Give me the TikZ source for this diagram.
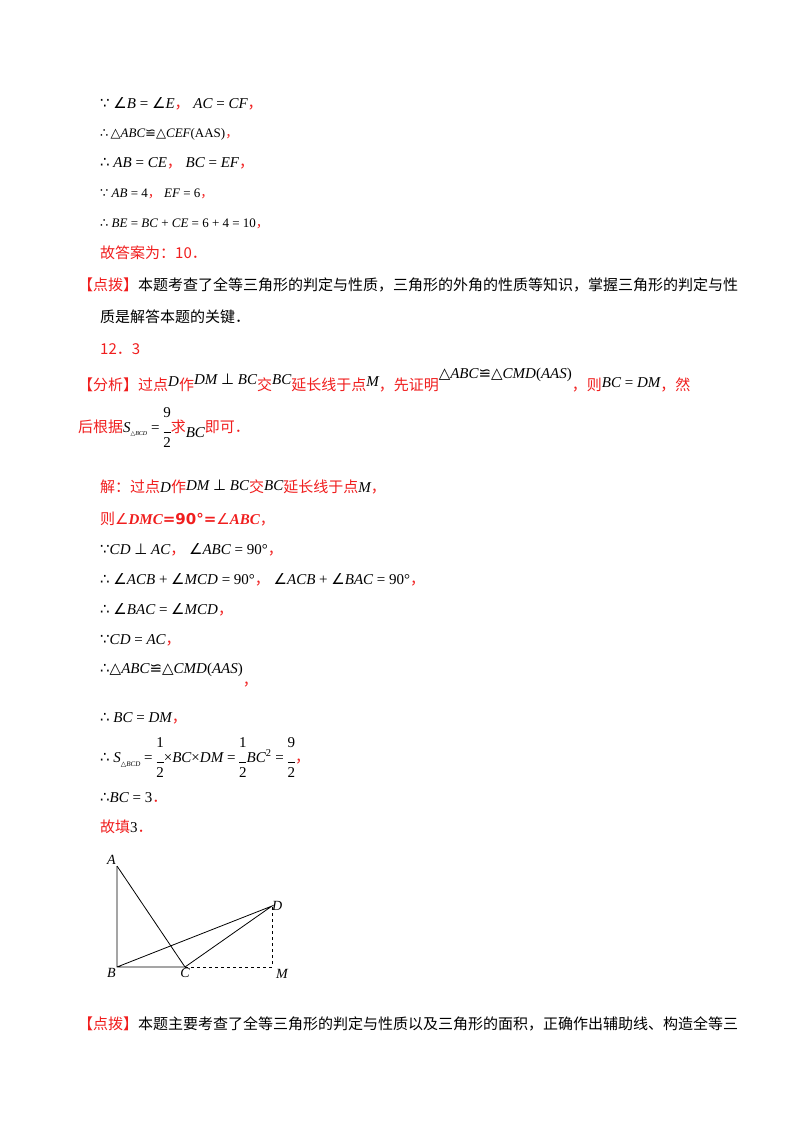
\documentclass[tikz,border=0pt]{standalone}
\usepackage{fontspec}
\setmainfont{Liberation Serif}
\newfontfamily\cjk{Noto Sans CJK SC}
\newfontfamily\sy{DejaVu Sans}
\newfontfamily\mi{Liberation Serif}
\definecolor{rd}{RGB}{240,30,30}
\newcommand{\R}[1]{\textcolor{rd}{\cjk #1}}
\newcommand{\M}[1]{{\mi\itshape #1}}
\newcommand{\Y}[1]{{\sy\upshape #1}}
\newcommand{\fr}[2]{$\vcenter{\hbox{\begin{tabular}{@{}c@{}}\normalfont #1\\[-3pt]\rule{7pt}{0.5pt}\\[-3pt]\normalfont #2\end{tabular}}}$}
\begin{document}
\begin{tikzpicture}[x=1pt,y=-1pt,
  ln/.style={anchor=base west,inner sep=0pt,font=\fontsize{15}{18}\selectfont},
  sm/.style={anchor=base west,inner sep=0pt,font=\fontsize{13}{15}\selectfont},
  lab/.style={font=\fontsize{14}{16}\selectfont\mi\itshape,inner sep=1pt}]
\useasboundingbox (0,0) rectangle (800,1132);
\node[ln] (l1) at (100,108) {\Y{∵} \Y{∠}\M{B} = \Y{∠}\M{E}\R{，}\ \M{AC} = \M{CF}\R{，}};
\node[sm] (l2) at (100,137) {\Y{∴}\,\Y{△}\M{ABC}\Y{≌}\Y{△}\M{CEF}(AAS)\R{，}};
\node[ln] (l3) at (100,167) {\Y{∴} \M{AB} = \M{CE}\R{，}\ \M{BC} = \M{EF}\R{，}};
\node[sm] (l4) at (100,197) {\Y{∵} \M{AB} = 4\R{，}\ \M{EF} = 6\R{，}};
\node[sm] (l5) at (100,227) {\Y{∴} \M{BE} = \M{BC} + \M{CE} = 6 + 4 = 10\R{，}};
\node[ln] (l6) at (100,258) {\R{故答案为：10．}};
\node[ln] (l7) at (78,290) {\R{【点拨】}{\cjk 本题考查了全等三角形的判定与性质，三角形的外角的性质等知识，掌握三角形的判定与性}};
\node[ln] (l8) at (100,322) {\cjk 质是解答本题的关键．};
\node[ln] (l9) at (100,354) {\R{12．3}};
\node[ln] (l10) at (78,390) {\R{【分析】过点}\raisebox{4pt}{\M{D}}\R{作}\raisebox{6pt}{\M{DM} \Y{⊥} \M{BC}}\R{交}\raisebox{6pt}{\M{BC}}\R{延长线于点}\raisebox{4pt}{\M{M}}\R{，先证明}\raisebox{12pt}{\Y{△}\M{ABC}\Y{≌}\Y{△}\M{CMD}(\M{AAS})}\R{，则}\raisebox{3pt}{\M{BC} = \M{DM}}\R{，然}};
\node[ln] (l11) at (78,432) {\R{后根据}\M{S}\raisebox{-3pt}{\fontsize{6}{7}\selectfont\Y{△}\M{BCD}} = \fr{9}{2}\R{求}\raisebox{-5pt}{\M{BC}}\R{即可．}};
\node[ln] (l12) at (100,492) {\R{解：过点}\M{D}\R{作}\raisebox{2pt}{\M{DM} \Y{⊥} \M{BC}}\R{交}\raisebox{2pt}{\M{BC}}\R{延长线于点}\M{M}\R{，}};
\node[ln] (l13) at (100,524) {\textcolor{rd}{{\cjk 则}\Y{∠}{\mi\bfseries\itshape DMC}{\sy\bfseries =90°=}\Y{∠}{\mi\bfseries\itshape ABC}{\cjk ，}}};
\node[ln] (l14) at (100,554) {\Y{∵}\M{CD} \Y{⊥} \M{AC}\R{，}\ \Y{∠}\M{ABC} = 90°\R{，}};
\node[ln] (l15) at (100,584) {\Y{∴} \Y{∠}\M{ACB} + \Y{∠}\M{MCD} = 90°\R{，}\ \Y{∠}\M{ACB} + \Y{∠}\M{BAC} = 90°\R{，}};
\node[ln] (l16) at (100,614) {\Y{∴} \Y{∠}\M{BAC} = \Y{∠}\M{MCD}\R{，}};
\node[ln] (l17) at (100,644) {\Y{∵}\M{CD} = \M{AC}\R{，}};
\node[ln] (l18) at (100,673) {\Y{∴}\Y{△}\M{ABC}\Y{≌}\Y{△}\M{CMD}(\M{AAS})\raisebox{-12pt}{\R{，}}};
\node[ln] (l19) at (100,722) {\Y{∴} \M{BC} = \M{DM}\R{，}};
\node[ln] (l20) at (100,762) {\Y{∴} \M{S}\raisebox{-4pt}{\fontsize{7}{8}\selectfont\Y{△}\M{BCD}} = \fr{1}{2}×\M{BC}×\M{DM} = \fr{1}{2}\M{BC}\textsuperscript{2} = \fr{9}{2}\R{，}};
\node[ln] (l21) at (100,802) {\Y{∴}\M{BC} = 3\R{．}};
\node[ln] (l22) at (100,832) {\R{故填}3\R{．}};
\coordinate (A) at (117,866);
\coordinate (B) at (117,967);
\coordinate (C) at (185,967);
\coordinate (D) at (272,906);
\coordinate (M) at (272,967);
\draw[line width=0.8pt] (A) -- (B) -- (C) -- (D) -- (B);
\draw[line width=0.8pt] (A) -- (C);
\draw[line width=0.8pt,dashed] (C) -- (M) -- (D);
\node[lab,anchor=south east] at (A) {A};
\node[lab,anchor=north east] at (B) {B};
\node[lab,anchor=north] at (C) {C};
\node[lab,anchor=west,inner sep=0pt] at (D) {D};
\node[lab,anchor=north west] at (275,968) {M};
\node[ln] (l23) at (78,1029) {\R{【点拨】}{\cjk 本题主要考查了全等三角形的判定与性质以及三角形的面积，正确作出辅助线、构造全等三}};
\end{tikzpicture}
\end{document}
